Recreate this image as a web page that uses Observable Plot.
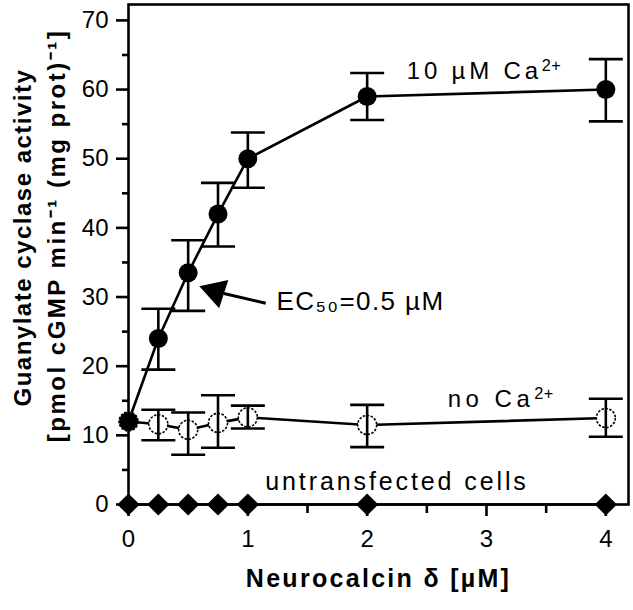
<!DOCTYPE html>
<html>
<head>
<meta charset="utf-8">
<script src="https://cdn.jsdelivr.net/npm/d3@7"></script>
<script src="https://cdn.jsdelivr.net/npm/@observablehq/plot@0.6"></script>
<style>
  body { margin: 0; background: #fff; }
  #chart svg { display: block; }
</style>
</head>
<body>
<div id="chart"></div>
<script>
// ---- data ----
const conc = [0, 0.25, 0.5, 0.75, 1, 2, 4];
const caMean = [12, 24, 33.5, 42, 50, 59, 60];
const caLow  = [null, 19.5, 28, 37.3, 45.8, 55.6, 55.4];
const caHigh = [null, 28.3, 38.2, 46.5, 53.8, 62.4, 64.4];
const noCaMean = [12, 11.6, 10.8, 11.8, 12.6, 11.5, 12.5];
const noCaLow  = [null, 9.3, 7.2, 8.2, 11.0, 8.3, 9.8];
const noCaHigh = [null, 13.7, 13.3, 15.8, 14.3, 14.4, 15.3];
const untrMean = [0, 0, 0, 0, 0, 0, 0];
const xTicks = [0, 1, 2, 3, 4];
const xMinorTicks = [0.5, 1.5, 2.5, 3.5];
const yTicks = [0, 10, 20, 30, 40, 50, 60, 70];
const yMinorTicks = [5, 15, 25, 35, 45, 55, 65];

const rows = [];
conc.forEach((c, i) => {
  rows.push({series: "ca", x: c, y: caMean[i], lo: caLow[i], hi: caHigh[i]});
  rows.push({series: "noca", x: c, y: noCaMean[i], lo: noCaLow[i], hi: noCaHigh[i]});
  rows.push({series: "untr", x: c, y: untrMean[i], lo: null, hi: null});
});
const ca = rows.filter(d => d.series === "ca");
const noca = rows.filter(d => d.series === "noca");
const untr = rows.filter(d => d.series === "untr");
const errs = rows.filter(d => d.lo != null);

// annotations (data coordinates)
const labels = [
  {text: "10 µM Ca²⁺", x: 2.98, y: 62.6, size: 24, weight: "normal"},
  {text: "no Ca²⁺", x: 3.12, y: 15.2, size: 24, weight: "normal"},
  {text: "untransfected cells", x: 2.25, y: 3.3, size: 25, weight: "bold"}
];
const ec50 = [{text: "EC₅₀=0.5 µM", x: 1.24, y: 29.4}];
const arrowLine = [{x1: 1.15, y1: 29.1, x2: 0.8, y2: 30.5}];
const arrowHead = [{x: 0.73, y: 30.8}];
const yTitles = [
  {text: "Guanylate cyclase activity", x: -0.88, y: 38.6},
  {text: "[pmol cGMP min⁻¹ (mg prot)⁻¹]", x: -0.6, y: 38.9}
];
const xTitle = "Neurocalcin δ [µM]";

// letter spacing per text (style)
const spacing = new Map([
  ["10 µM Ca²⁺", 3.8],
  ["no Ca²⁺", 4.5],
  ["untransfected cells", 2.9],
  ["EC₅₀=0.5 µM", 1.4],
  [xTitle, 2.3],
  ["Guanylate cyclase activity", 1.5],
  ["[pmol cGMP min⁻¹ (mg prot)⁻¹]", 2.5]
]);

const capSymbol = {
  draw(context, size) {
    const w = Math.sqrt(size / Math.PI);
    context.moveTo(-w, 0);
    context.lineTo(w, 0);
  }
};

const font = "Liberation Sans, Arial, Helvetica, sans-serif";
const SW = 2.6;

const plot = Plot.plot({
  width: 633,
  height: 610,
  marginLeft: 128,
  marginRight: 5,
  marginTop: 4,
  marginBottom: 106,
  style: {fontFamily: font, background: "#fff", color: "#000", overflow: "visible"},
  x: {domain: [0, 4.19]},
  y: {domain: [0, 72.3]},
  marks: [
    Plot.frame({stroke: "#000", strokeWidth: SW}),
    // axes
    Plot.axisY({ticks: yTicks, tickSize: 12, tickPadding: 8, fontSize: 24, strokeWidth: SW, label: null, tickFormat: d => d}),
    Plot.axisY({ticks: yMinorTicks, tickSize: 6, tickFormat: () => "", strokeWidth: SW, label: null}),
    Plot.axisX({ticks: xTicks, tickSize: 12, tickPadding: 13, fontSize: 24, strokeWidth: SW, label: null, tickFormat: d => d}),
    Plot.axisX({ticks: xMinorTicks, tickSize: 9, tickFormat: () => "", strokeWidth: SW, label: null}),
    // lines
    Plot.line(ca, {x: "x", y: "y", stroke: "#000", strokeWidth: SW}),
    Plot.line(noca, {x: "x", y: "y", stroke: "#000", strokeWidth: SW}),
    Plot.line(untr, {x: "x", y: "y", stroke: "#000", strokeWidth: SW}),
    // open circles (below error bars)
    Plot.dot(noca, {x: "x", y: "y", r: 9.5, fill: "#fff", stroke: "#000", strokeWidth: 1.6, strokeDasharray: "2.5,1.5"}),
    // error bars
    Plot.ruleX(errs, {x: "x", y1: "lo", y2: "hi", stroke: "#000", strokeWidth: SW}),
    Plot.dot(errs, {x: "x", y: "lo", symbol: capSymbol, r: 17, stroke: "#000", strokeWidth: SW, fill: "none"}),
    Plot.dot(errs, {x: "x", y: "hi", symbol: capSymbol, r: 17, stroke: "#000", strokeWidth: SW, fill: "none"}),
    // filled circles and diamonds
    Plot.dot(ca, {x: "x", y: "y", r: 9.5, fill: "#000", stroke: "none"}),
    Plot.dot(untr, {x: "x", y: "y", symbol: "diamond2", r: 10, fill: "#000", stroke: "none"}),
    // arrow
    Plot.link(arrowLine, {x1: "x1", y1: "y1", x2: "x2", y2: "y2", stroke: "#000", strokeWidth: 3}),
    Plot.dot(arrowHead, {x: "x", y: "y", symbol: "triangle", r: 11, rotate: -72, fill: "#000", stroke: "none"}),
    // annotations
    Plot.text(labels, {x: "x", y: "y", text: "text", fontSize: "size", fontWeight: "weight", textAnchor: "middle", fill: "#000"}),
    Plot.text(ec50, {x: "x", y: "y", text: "text", fontSize: 26, textAnchor: "start", fill: "#000"}),
    // axis titles
    Plot.text([xTitle], {frameAnchor: "bottom", dy: 82, fontSize: 25, fontWeight: "bold", fill: "#000"}),
    Plot.text(yTitles, {x: "x", y: "y", text: "text", rotate: -90, fontSize: 24, fontWeight: "bold", fill: "#000"})
  ]
});
d3.select(plot).selectAll("text").each(function() {
  const t = this.textContent;
  const s = spacing.get(t);
  if (s != null) this.style.letterSpacing = s + "px";
  // render "²⁺" as a compact superscript
  if (t.endsWith("²⁺")) {
    this.textContent = t.slice(0, -2);
    const sup = d3.select(this).append("tspan")
      .attr("dy", "-0.5em")
      .attr("font-size", "0.68em")
      .style("letter-spacing", "0.5px")
      .text("2+");
  }
});
document.getElementById("chart").appendChild(plot);
</script>
</body>
</html>
